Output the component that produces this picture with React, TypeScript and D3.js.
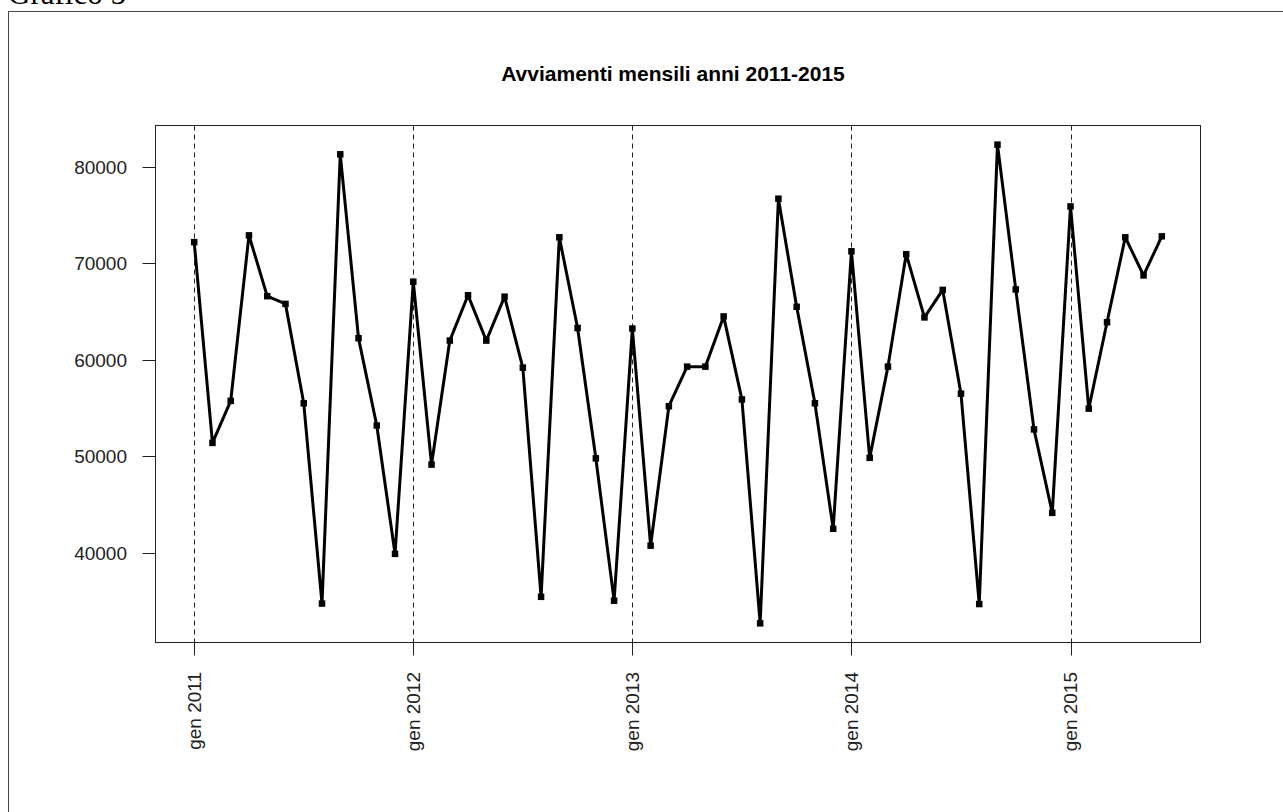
import React from "react";
import * as d3 from "d3";

const title = "Avviamenti mensili anni 2011-2015";
const caption = "Grafico 5";
const values2011 = [72200, 51400, 55750, 72900, 66600, 65800, 55500, 34750, 81300, 62250, 53200, 39900];
const values2012 = [68100, 49150, 62000, 66700, 62000, 66550, 59200, 35450, 72700, 63300, 49800, 35050];
const values2013 = [63250, 40750, 55200, 59300, 59300, 64500, 55900, 32700, 76700, 65500, 55500, 42500];
const values2014 = [71250, 49850, 59300, 70950, 64400, 67250, 56500, 34700, 82300, 67300, 52800, 44150];
const values2015 = [75900, 54950, 63900, 72700, 68750, 72800];
const values = [...values2011, ...values2012, ...values2013, ...values2014, ...values2015];
const xTickIndex = [0, 12, 24, 36, 48];
const xTickLabels = ["gen 2011", "gen 2012", "gen 2013", "gen 2014", "gen 2015"];
const yTicks = [40000, 50000, 60000, 70000, 80000];

const W = 1283;
const H = 812;
const plot = { left: 155.5, right: 1200.5, top: 125.5, bottom: 642.5 };

function pad(ext: [number, number]): [number, number] {
  const r = ext[1] - ext[0];
  return [ext[0] - 0.04 * r, ext[1] + 0.04 * r];
}

export default function App() {
  const idx = values.map((_, i) => i);
  const x = d3.scaleLinear().domain(pad([0, values.length - 1])).range([plot.left, plot.right]);
  const y = d3.scaleLinear().domain(pad(d3.extent(values) as [number, number])).range([plot.bottom, plot.top]);
  const line = d3
    .line<number>()
    .x((_, i) => x(i))
    .y((d) => y(d));
  const axisFont = "Liberation Sans, Arial, sans-serif";
  const ms = 6.5;
  return (
    <svg
      width={W}
      height={H}
      style={{ position: "absolute", left: 0, top: 0, background: "#fff" }}
    >
      <rect x={0} y={0} width={W} height={H} fill="#fff" />
      <text x={8} y={4} fontFamily="Liberation Serif, Times New Roman, serif" fontSize={31} fill="#000">
        {caption}
      </text>
      <rect x={8.5} y={11.5} width={W + 20} height={H + 20} fill="none" stroke="#444" strokeWidth={1} />
      <text
        x={(plot.left + plot.right) / 2 - 5}
        y={81}
        textAnchor="middle"
        fontFamily={axisFont}
        fontWeight="bold"
        fontSize={21}
        fill="#000"
      >
        {title}
      </text>
      {xTickIndex.map((t) => (
        <line
          key={"g" + t}
          x1={Math.round(x(t)) + 0.5}
          x2={Math.round(x(t)) + 0.5}
          y1={plot.top}
          y2={plot.bottom}
          stroke="#222"
          strokeWidth={1}
          strokeDasharray="5,4"
        />
      ))}
      <rect
        x={plot.left}
        y={plot.top}
        width={plot.right - plot.left}
        height={plot.bottom - plot.top}
        fill="none"
        stroke="#222"
        strokeWidth={1}
      />
      {yTicks.map((t) => (
        <g key={"y" + t}>
          <line x1={plot.left - 13} x2={plot.left} y1={Math.round(y(t)) + 0.5} y2={Math.round(y(t)) + 0.5} stroke="#222" />
          <text
            x={127}
            y={y(t)}
            dy="0.36em"
            textAnchor="end"
            fontFamily={axisFont}
            fontSize={19}
            fill="#222"
          >
            {t}
          </text>
        </g>
      ))}
      {xTickIndex.map((t, i) => (
        <g key={"x" + t}>
          <line
            x1={Math.round(x(t)) + 0.5}
            x2={Math.round(x(t)) + 0.5}
            y1={plot.bottom}
            y2={plot.bottom + 13}
            stroke="#222"
          />
          <text
            transform={`translate(${x(t)},${672}) rotate(-90)`}
            dy="0.36em"
            textAnchor="end"
            fontFamily={axisFont}
            fontSize={19}
            fill="#222"
          >
            {xTickLabels[i]}
          </text>
        </g>
      ))}
      <path d={line(values) || ""} fill="none" stroke="#000" strokeWidth={3} strokeLinejoin="round" />
      {idx.map((i) => (
        <rect key={"m" + i} x={x(i) - ms / 2} y={y(values[i]) - ms / 2} width={ms} height={ms} fill="#000" />
      ))}
    </svg>
  );
}
